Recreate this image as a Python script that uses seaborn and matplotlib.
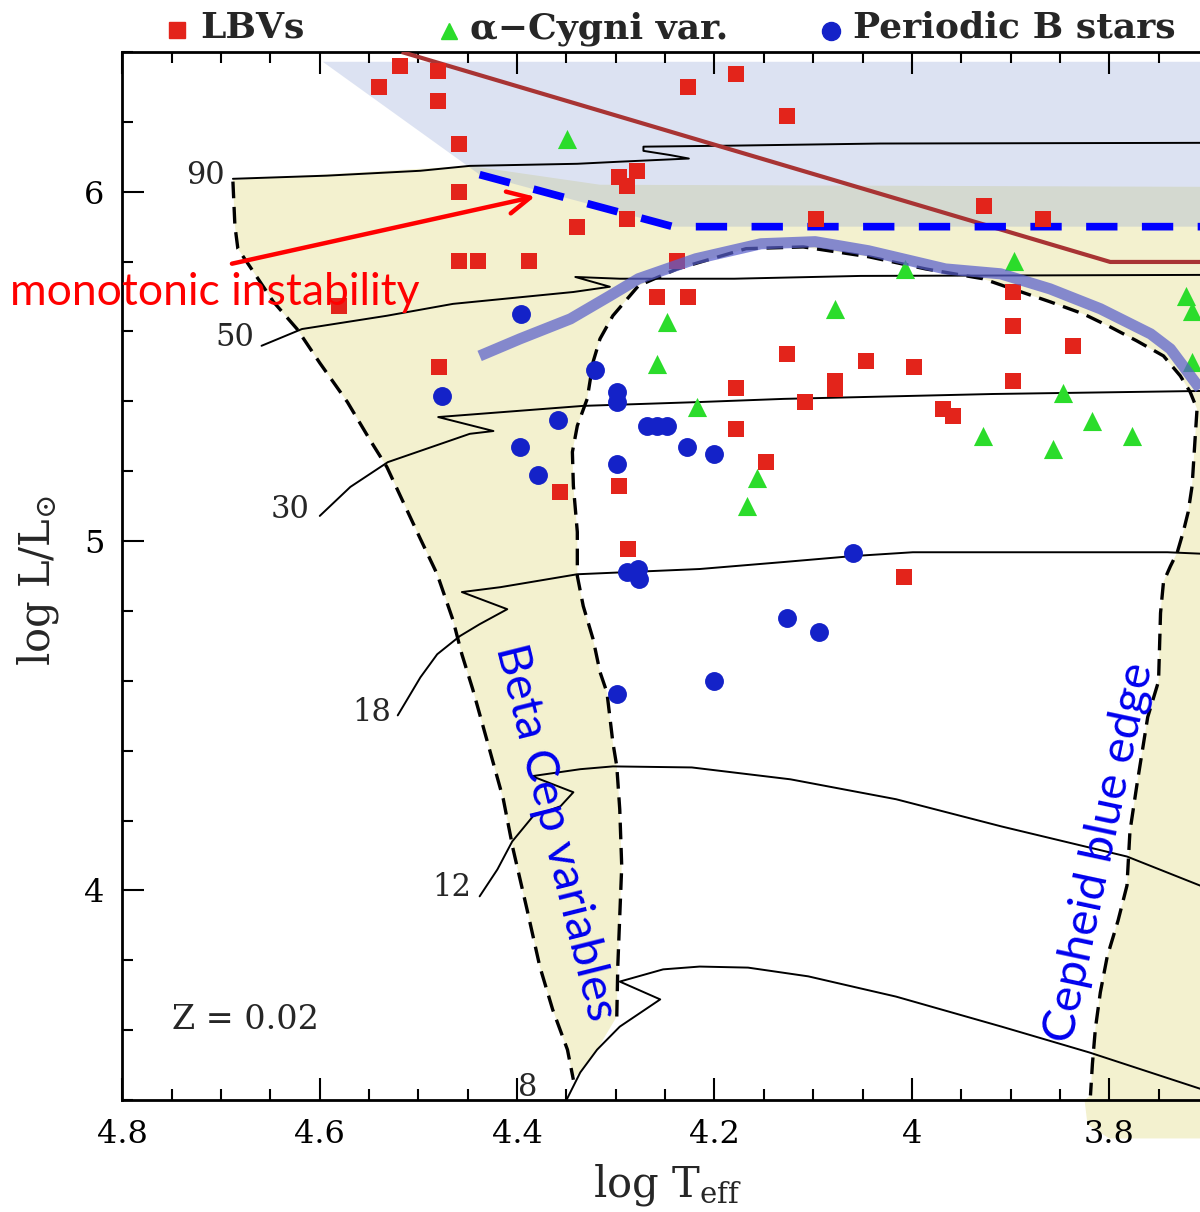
import numpy as np
import matplotlib
matplotlib.use("Agg")
import matplotlib.pyplot as plt
from matplotlib.patches import Polygon
from matplotlib.lines import Line2D
from matplotlib.ticker import FixedLocator, MultipleLocator, FixedFormatter
import seaborn as sns

# ---------------- data (log Teff, log L/Lsun) ----------------
lbv_logT = [4.519, 4.480, 4.540, 4.480, 4.459, 4.459, 4.459, 4.440, 4.388, 4.339,
            4.297, 4.279, 4.289, 4.289, 4.227, 4.178, 4.127, 4.097, 3.927, 3.867,
            4.238, 4.258, 4.227, 3.897, 3.897, 4.127, 4.046, 3.998, 3.837, 4.178,
            4.078, 4.078, 3.897, 4.108, 3.968, 3.958, 4.178, 4.148, 4.008, 4.580,
            4.479, 4.357, 4.297, 4.288]
lbv_logL = [6.361, 6.347, 6.301, 6.261, 6.138, 6.000, 5.802, 5.802, 5.802, 5.900,
            6.043, 6.060, 6.017, 5.923, 6.301, 6.338, 6.218, 5.923, 5.960, 5.923,
            5.802, 5.699, 5.699, 5.713, 5.616, 5.536, 5.516, 5.499, 5.559, 5.438,
            5.458, 5.436, 5.458, 5.398, 5.378, 5.358, 5.321, 5.226, 4.897, 5.673,
            5.499, 5.140, 5.158, 4.977]

acyg_logT = [4.349, 4.248, 4.258, 4.218, 4.157, 4.167, 4.078, 4.007, 3.896, 3.722,
             3.716, 3.716, 3.847, 3.817, 3.928, 3.777, 3.857]
acyg_logL = [6.152, 5.628, 5.507, 5.384, 5.181, 5.100, 5.665, 5.779, 5.802, 5.702,
             5.659, 5.513, 5.424, 5.344, 5.301, 5.301, 5.264]

pb_logT = [4.396, 4.321, 4.476, 4.299, 4.299, 4.359, 4.268, 4.258, 4.248, 4.397,
           4.228, 4.201, 4.299, 4.379, 4.289, 4.278, 4.277, 4.060, 4.127, 4.094,
           4.201, 4.299]
pb_logL = [5.650, 5.490, 5.415, 5.427, 5.398, 5.347, 5.330, 5.330, 5.330, 5.269,
           5.269, 5.249, 5.221, 5.189, 4.911, 4.920, 4.891, 4.966, 4.779, 4.739,
           4.599, 4.562]

# evolutionary tracks
t90_T = [4.688, 4.593, 4.498, 4.448, 4.339, 4.296, 4.226, 4.245, 4.272, 4.272, 4.180, 4.032, 3.700]
t90_L = [6.037, 6.046, 6.060, 6.074, 6.080, 6.086, 6.095, 6.105, 6.117, 6.129, 6.132, 6.138, 6.140]
t50_T = [4.659, 4.618, 4.532, 4.465, 4.343, 4.306, 4.341, 4.296, 4.180, 4.052, 3.700]
t50_L = [5.559, 5.607, 5.645, 5.679, 5.713, 5.728, 5.756, 5.751, 5.751, 5.759, 5.762]
t30_T = [4.600, 4.569, 4.531, 4.448, 4.424, 4.480, 4.333, 4.215, 4.130, 3.918, 3.700]
t30_L = [5.072, 5.155, 5.226, 5.307, 5.315, 5.355, 5.387, 5.398, 5.407, 5.421, 5.430]
t18_T = [4.521, 4.498, 4.481, 4.458, 4.438, 4.410, 4.456, 4.417, 4.339, 4.215, 4.130, 4.060, 3.999, 3.741, 3.700]
t18_L = [4.501, 4.610, 4.676, 4.728, 4.762, 4.805, 4.854, 4.868, 4.905, 4.920, 4.940, 4.957, 4.968, 4.968, 4.963]
t12_T = [4.438, 4.420, 4.405, 4.384, 4.356, 4.343, 4.385, 4.336, 4.303, 4.223, 4.123, 4.016, 3.909, 3.782, 3.700]
t12_L = [3.983, 4.060, 4.140, 4.212, 4.241, 4.281, 4.327, 4.347, 4.355, 4.352, 4.318, 4.261, 4.183, 4.097, 4.005]
t8_T = [4.350, 4.336, 4.319, 4.296, 4.255, 4.296, 4.252, 4.215, 4.166, 4.105, 4.016, 3.909, 3.820, 3.700]
t8_L = [3.400, 3.479, 3.544, 3.610, 3.688, 3.739, 3.774, 3.782, 3.779, 3.754, 3.696, 3.610, 3.536, 3.425]
track_masses = ["90", "50", "30", "18", "12", "8"]

# instability strip boundaries (dashed)
bcep_left_T = [4.688, 4.686, 4.683, 4.668, 4.647, 4.623, 4.600, 4.572, 4.549, 4.532, 4.516, 4.498,
               4.481, 4.465, 4.456, 4.445, 4.430, 4.414, 4.404, 4.390, 4.377, 4.364, 4.349, 4.343]
bcep_left_L = [6.029, 5.903, 5.837, 5.774, 5.685, 5.607, 5.510, 5.398, 5.289, 5.212, 5.115, 5.006,
               4.905, 4.774, 4.676, 4.576, 4.424, 4.261, 4.117, 3.946, 3.782, 3.659, 3.544, 3.458]
edge_T = [4.299, 4.298, 4.296, 4.294, 4.296, 4.299, 4.303, 4.309, 4.316, 4.323,
          4.333, 4.339, 4.339, 4.343, 4.344, 4.339, 4.329, 4.323, 4.316, 4.303,
          4.277, 4.238, 4.168, 4.110, 4.044, 3.986, 3.928, 3.889, 3.860, 3.826,
          3.799, 3.772, 3.745, 3.728, 3.718, 3.711, 3.713, 3.716, 3.720, 3.725,
          3.731, 3.738, 3.745, 3.748, 3.750, 3.761, 3.772, 3.779, 3.782, 3.791,
          3.802, 3.809, 3.814, 3.817, 3.819]
edge_L = [3.639, 3.782, 3.926, 4.069, 4.232, 4.355, 4.424, 4.567, 4.625, 4.719,
          4.814, 4.900, 5.026, 5.158, 5.255, 5.330, 5.407, 5.513, 5.579, 5.645,
          5.731, 5.779, 5.837, 5.842, 5.814, 5.779, 5.751, 5.713, 5.685, 5.650,
          5.613, 5.573, 5.530, 5.473, 5.427, 5.378, 5.292, 5.158, 5.083, 5.026,
          4.968, 4.928, 4.883, 4.794, 4.599, 4.496, 4.301, 4.169, 4.014, 3.914,
          3.811, 3.708, 3.605, 3.504, 3.413]
strip_top_T = [4.688, 4.448, 4.316, 3.700, 3.700, 3.800, 3.822, 3.825]
strip_top_L = [6.034, 6.074, 6.020, 6.014, 3.290, 3.290, 3.330, 3.400]
strip_tip_T = [4.319, 4.336, 4.344]
strip_tip_L = [3.544, 3.479, 3.464]

# upper (blue) region, HD limit, monotonic instability
blue_reg_T = [4.597, 3.700, 3.700, 4.242, 4.438]
blue_reg_L = [6.372, 6.372, 5.900, 5.900, 6.049]
hd_T = [4.517, 3.799, 3.700]
hd_L = [6.400, 5.799, 5.799]
mono_T = [4.438, 4.242, 3.700]
mono_L = [6.049, 5.900, 5.900]
curve_T = [4.438, 4.397, 4.346, 4.306, 4.277, 4.219, 4.153, 4.098, 4.044, 3.966,
           3.910, 3.860, 3.809, 3.758, 3.738, 3.725, 3.708]
curve_L = [5.530, 5.579, 5.636, 5.702, 5.751, 5.808, 5.851, 5.857, 5.831, 5.779,
           5.765, 5.722, 5.665, 5.593, 5.550, 5.501, 5.436]
arrow_from = (4.689, 5.794)
arrow_to = (4.382, 5.986)

xtick_vals = [4.8, 4.6, 4.4, 4.2, 4.0, 3.8]
xtick_labels = ["4.8", "4.6", "4.4", "4.2", "4", "3.8"]
ytick_vals = [4, 5, 6]
ytick_labels = ["4", "5", "6"]

# ---------------- style ----------------
sns.set_theme(style="ticks")
plt.rcParams['font.family'] = ['DejaVu Serif']
plt.rcParams['mathtext.fontset'] = 'dejavuserif'
plt.rcParams['axes.edgecolor'] = 'black'
plt.rcParams['xtick.color'] = 'black'
plt.rcParams['ytick.color'] = 'black'

fig = plt.figure(figsize=(12, 12.12), dpi=100)
ax = fig.add_axes([0.102, 0.0924, 0.898, 0.8647])
ax.set_xlim(4.8, 3.708)
ax.set_ylim(3.4, 6.4)
ax.set_facecolor('white')
ax.set_axisbelow(False)

# yellow strip
poly_T = strip_top_T + edge_T[::-1] + strip_tip_T + bcep_left_T[::-1]
poly_L = strip_top_L + edge_L[::-1] + strip_tip_L + bcep_left_L[::-1]
ax.add_patch(Polygon(np.column_stack([poly_T, poly_L]), closed=True,
                     fc='#f3f1cf', ec='none', zorder=1, clip_on=False))
# blue upper region
ax.add_patch(Polygon(np.column_stack([blue_reg_T, blue_reg_L]), closed=True,
                     fc=(142/255, 162/255, 212/255), alpha=0.3, ec='none', zorder=2))

# tracks
tracks = [(t90_T, t90_L), (t50_T, t50_L), (t30_T, t30_L),
          (t18_T, t18_L), (t12_T, t12_L), (t8_T, t8_L)]
for tT, tL in tracks:
    sns.lineplot(x=tT, y=tL, sort=False, estimator=None, color='black',
                 lw=1.4, ax=ax, zorder=3, legend=False)

# dashed strip edges
ax.plot(bcep_left_T, bcep_left_L, color='black', lw=2.4, ls=(0, (5, 2.6)), zorder=3)
ax.plot(edge_T, edge_L, color='black', lw=2.4, ls=(0, (5, 2.6)), zorder=3)

# HD limit and monotonic instability line
ax.plot(hd_T, hd_L, color='#a83434', lw=3, zorder=4, solid_capstyle='butt')
ax.plot(mono_T, mono_L, color='#0000ff', lw=5.5, ls=(0, (4.1, 3.2)), zorder=4)

# stars
sns.scatterplot(x=lbv_logT, y=lbv_logL, marker='s', s=125, color='#e3241b',
                linewidth=0, ax=ax, zorder=5, legend=False)
sns.scatterplot(x=acyg_logT, y=acyg_logL, marker='^', s=190, color='#2bdc2b',
                linewidth=0, ax=ax, zorder=5, legend=False)
sns.scatterplot(x=pb_logT, y=pb_logL, marker='o', s=185, color='#1422c8',
                linewidth=0, ax=ax, zorder=5, legend=False)

# translucent highlight curve
ax.plot(curve_T, curve_L, color='#5a60cc', lw=8, alpha=0.72, zorder=6,
        solid_capstyle='butt')

# arrow
ax.annotate('', xy=arrow_to, xytext=arrow_from,
            arrowprops=dict(arrowstyle='->', color='#ff0000', lw=3.2,
                            mutation_scale=40, shrinkA=0, shrinkB=0), zorder=7)

# ticks
ax.xaxis.set_major_locator(FixedLocator(xtick_vals))
ax.xaxis.set_major_formatter(FixedFormatter(xtick_labels))
ax.xaxis.set_minor_locator(MultipleLocator(0.05))
ax.yaxis.set_major_locator(FixedLocator(ytick_vals))
ax.yaxis.set_major_formatter(FixedFormatter(ytick_labels))
ax.yaxis.set_minor_locator(MultipleLocator(0.2))
ax.tick_params(which='major', direction='in', length=16, width=1.5,
               labelsize=23, top=True, right=False)
ax.tick_params(which='minor', direction='in', length=8, width=1.5,
               top=True, right=False)
ax.tick_params(axis='x', which='major', pad=14)
ax.tick_params(axis='y', which='major', pad=13)
for s in ['left', 'bottom', 'top']:
    ax.spines[s].set_linewidth(2)
    ax.spines[s].set_color('black')
ax.spines['right'].set_visible(False)

# track labels
lab_pos = [(0.0768, 0.8826), (0.1044, 0.7271), (0.1555, 0.5630),
           (0.2316, 0.3702), (0.3058, 0.2023), (0.3764, 0.0124)]
for m, (fx, fy) in zip(track_masses, lab_pos):
    ax.text(fx, fy, m, transform=ax.transAxes, fontsize=22, ha='center',
            va='center', zorder=8)
ax.text(0.046, 0.0763, 'Z = 0.02', transform=ax.transAxes, fontsize=24,
        ha='left', va='center', zorder=8)

# annotation texts
ann_font = ['Lato', 'DejaVu Sans']
fig.text(10/1200, 1 - 305/1212, 'monotonic instability', color='#ff0000',
         fontsize=32, family=ann_font, ha='left', va='baseline', zorder=10)
ax.text(0.4014, 0.2557, 'Beta Cep variables', transform=ax.transAxes,
        color='#0000ee', fontsize=34, family=ann_font, rotation=-76,
        ha='center', va='center', rotation_mode='anchor', zorder=8)
ax.text(0.9072, 0.2366, 'Cepheid blue edge', transform=ax.transAxes,
        color='#0000ee', fontsize=34, family=ann_font, rotation=78,
        ha='center', va='center', rotation_mode='anchor', zorder=8)

# axis labels
fig.text(0.556, 1 - 1197/1212, r'log T$_{\rm eff}$', ha='center', va='baseline',
         fontsize=30)
fig.text(38/1200, 1 - 580/1212, r'log L/L$_{\odot}$', rotation=90, ha='center',
         va='center', fontsize=30)

# legend at top
ly = 1 - 38/1212
fig.add_artist(Line2D([177/1200], [1 - 30/1212], marker='s', ms=11, color='#e3241b',
                      ls='none', transform=fig.transFigure))
fig.text(200/1200, ly, 'LBVs', fontsize=26, fontweight='bold', ha='left', va='baseline')
fig.add_artist(Line2D([449/1200], [1 - 31/1212], marker='^', ms=12, color='#2bdc2b',
                      ls='none', transform=fig.transFigure))
fig.text(470/1200, ly, '\u03b1\u2212Cygni var.', fontsize=26, fontweight='bold',
         ha='left', va='baseline')
fig.add_artist(Line2D([831/1200], [1 - 31/1212], marker='o', ms=13, color='#1422c8',
                      ls='none', transform=fig.transFigure))
fig.text(853/1200, ly, 'Periodic B stars', fontsize=26, fontweight='bold',
         ha='left', va='baseline')

fig.savefig('out.png', dpi=100)
